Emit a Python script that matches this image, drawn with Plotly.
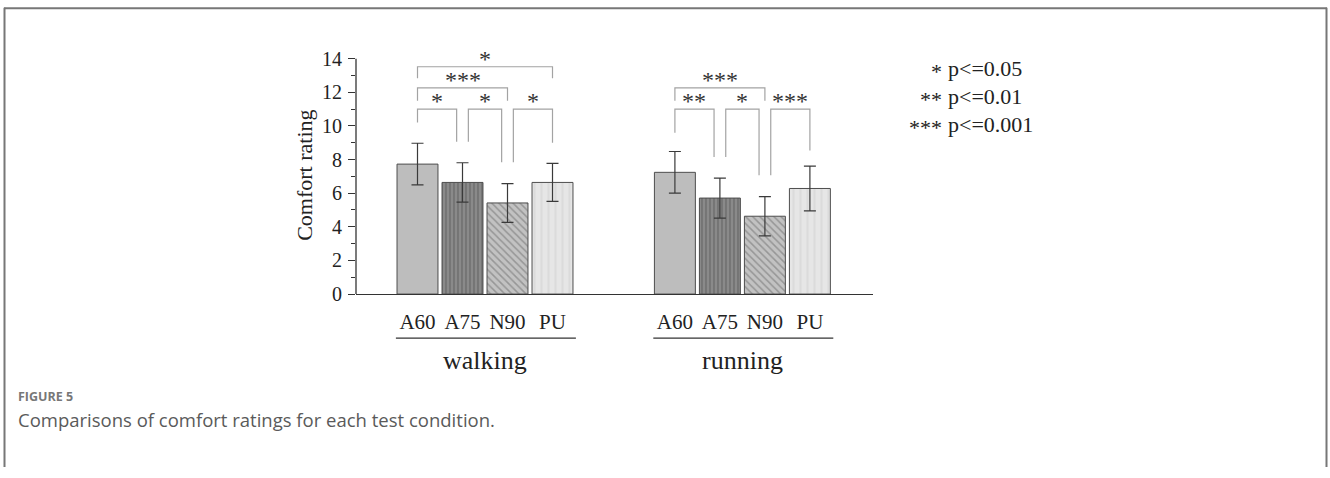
import plotly.graph_objects as go

# ---------------- data ----------------
groups = ["walking", "running"]
categories = ["A60", "A75", "N90", "PU"]
walking_mean = [7.73, 6.64, 5.42, 6.64]
walking_sd = [1.24, 1.17, 1.15, 1.13]
running_mean = [7.24, 5.71, 4.63, 6.28]
running_sd = [1.24, 1.19, 1.17, 1.33]
y_ticks = [0, 2, 4, 6, 8, 10, 12, 14]

# significance comparisons: (bar i, bar j, label, bracket level, left leg end, right leg end)
walking_sig = [(0, 1, "*", 11.0, 10.2, 9.06),
               (1, 2, "*", 11.0, 9.06, 7.84),
               (2, 3, "*", 11.0, 7.84, 9.0),
               (0, 2, "***", 12.26, 11.5, 11.5),
               (0, 3, "*", 13.52, 12.84, 12.84)]
running_sig = [(0, 1, "**", 11.0, 9.59, 8.15),
               (1, 2, "*", 11.0, 8.15, 7.07),
               (2, 3, "***", 11.0, 7.07, 8.54),
               (0, 2, "***", 12.26, 11.5, 11.5)]
legend_stars = ["*", "**", "***"]
legend_text = ["p<=0.05", "p<=0.01", "p<=0.001"]
caption_label = "FIGURE 5"
caption_text = "Comparisons of comfort ratings for each test condition."

# ---------------- layout helpers ----------------
W, H = 1330, 478
def px(x):
    return x / W
def py(y):
    return 1 - y / H

group_offset = [0.0, 5.72]
bar_width = 0.91
SERIF = "Liberation Serif, Times New Roman, serif"
pos = [[g + i for i in range(len(categories))] for g in group_offset]

fills = [
    dict(color="#bdbdbd", pattern=dict(shape="")),
    dict(color="#868686", pattern=dict(shape="|", fgcolor="#4f4f4f", bgcolor="#8a8a8a", size=4, solidity=0.35)),
    dict(color="#bcbcbc", pattern=dict(shape="\\", fgcolor="#6a6a6a", bgcolor="#c2c2c2", size=5, solidity=0.3)),
    dict(color="#e4e4e4", pattern=dict(shape="|", fgcolor="#d0d0d0", bgcolor="#e6e6e6", size=7, solidity=0.3)),
]

fig = go.Figure()
for i, cat in enumerate(categories):
    f = fills[i]
    fig.add_trace(go.Bar(
        x=[pos[0][i], pos[1][i]],
        y=[walking_mean[i], running_mean[i]],
        width=bar_width, name=cat, showlegend=False,
        marker=dict(color=f["color"], pattern=f["pattern"],
                    line=dict(color="#4d4d4d", width=1)),
        error_y=dict(type="data", array=[walking_sd[i], running_sd[i]],
                     color="#3a3a3a", thickness=1.2, width=6),
    ))

shapes = []
annotations = []
br_col = "#a3a3a3"
for gi, sig in enumerate([walking_sig, running_sig]):
    for (i, j, lab, lvl, yl, yr) in sig:
        adj = (j - i == 1)
        xl = pos[gi][i] + (0.13 if adj and i in (1, 2) else 0)
        xr = pos[gi][j] - (0.13 if adj and j in (1, 2) else 0)
        shapes.append(dict(type="path", xref="x", yref="y",
                           path=f"M {xl},{yl} L {xl},{lvl} L {xr},{lvl} L {xr},{yr}",
                           line=dict(color=br_col, width=1.2)))
        annotations.append(dict(x=(xl + xr) / 2, y=lvl, xref="x", yref="y",
                                text=lab, showarrow=False, yanchor="bottom",
                                yshift=-7, font=dict(family=SERIF, size=24, color="#333")))

# group underlines and labels
for gi, g in enumerate(groups):
    shapes.append(dict(type="line", xref="x", yref="paper",
                       x0=pos[gi][0] - 0.48, x1=pos[gi][-1] + 0.52,
                       y0=py(346), y1=py(346), line=dict(color="#333", width=1.3)))
    annotations.append(dict(x=(pos[gi][0] + pos[gi][-1]) / 2, y=py(369), xref="x", yref="paper",
                            text=g, showarrow=False, yanchor="middle", xanchor="center",
                            font=dict(family=SERIF, size=26, color="#222")))

# y-axis line (only up to 14)
shapes.append(dict(type="line", xref="paper", yref="y", x0=px(356), x1=px(356),
                   y0=0, y1=max(y_ticks), line=dict(color="#333", width=1.3)))

# y title
annotations.append(dict(x=px(305), y=py(180), xref="paper", yref="paper",
                        xanchor="center", yanchor="middle",
                        text="Comfort rating", textangle=-90, showarrow=False,
                        font=dict(family=SERIF, size=22, color="#222")))

# p-value legend
for k, (s, t) in enumerate(zip(legend_stars, legend_text)):
    yy = py(70 + k * 28.5)
    annotations.append(dict(x=px(944), y=yy, xref="paper", yref="paper", text=s,
                            showarrow=False, xanchor="right", yanchor="middle", yshift=-3,
                            font=dict(family=SERIF, size=22, color="#222")))
    annotations.append(dict(x=px(946), y=yy, xref="paper", yref="paper", text=t,
                            showarrow=False, xanchor="left", yanchor="middle",
                            font=dict(family=SERIF, size=22, color="#222")))

# caption
annotations.append(dict(x=px(16), y=py(406), xref="paper", yref="paper", text="<b>" + caption_label + "</b>",
                        showarrow=False, xanchor="left", yanchor="middle",
                        font=dict(family="Open Sans, sans-serif", size=12.5, color="#777")))
annotations.append(dict(x=px(16), y=py(429), xref="paper", yref="paper", text=caption_text,
                        showarrow=False, xanchor="left", yanchor="middle",
                        font=dict(family="Open Sans, sans-serif", size=18.5, color="#5a5a5a")))

# frame
fc = "#777"
shapes += [
    dict(type="line", xref="paper", yref="paper", x0=px(4), x1=px(1327), y0=py(8.5), y1=py(8.5), line=dict(color=fc, width=2)),
    dict(type="line", xref="paper", yref="paper", x0=px(4.5), x1=px(4.5), y0=py(8), y1=0, line=dict(color=fc, width=2)),
    dict(type="line", xref="paper", yref="paper", x0=px(1326.5), x1=px(1326.5), y0=py(8), y1=0, line=dict(color=fc, width=2)),
]

x_min = (356 - 417.5) / 45
x_max = (873 - 417.5) / 45
y_top = (301 - 40) / 17.21

fig.update_layout(
    width=W, height=H,
    margin=dict(l=0, r=0, t=0, b=0),
    paper_bgcolor="white", plot_bgcolor="white",
    barmode="overlay",
    shapes=shapes, annotations=annotations,
    xaxis=dict(domain=[px(356), px(873)], range=[x_min, x_max],
               tickvals=pos[0] + pos[1], ticktext=categories + categories,
               ticks="", showline=True, linecolor="#333", linewidth=1.3,
               showgrid=False, zeroline=False, ticklabelstandoff=9,
               tickfont=dict(family=SERIF, size=21, color="#222")),
    yaxis=dict(domain=[py(301), py(40)], range=[0, y_top],
               tickvals=y_ticks, ticks="outside", ticklen=7, tickwidth=1.2, tickcolor="#333",
               minor=dict(tickvals=[1, 3, 5, 7, 9, 11, 13], ticks="outside", ticklen=4,
                          tickwidth=1.2, tickcolor="#333", showgrid=False),
               showline=False, showgrid=False, zeroline=False, ticklabelstandoff=2,
               tickfont=dict(family=SERIF, size=20, color="#222")),
)

post = "document.documentElement.style.margin='0';document.body.style.margin='0';"
fig.write_html("out.html", config={"displayModeBar": False}, post_script=post)
